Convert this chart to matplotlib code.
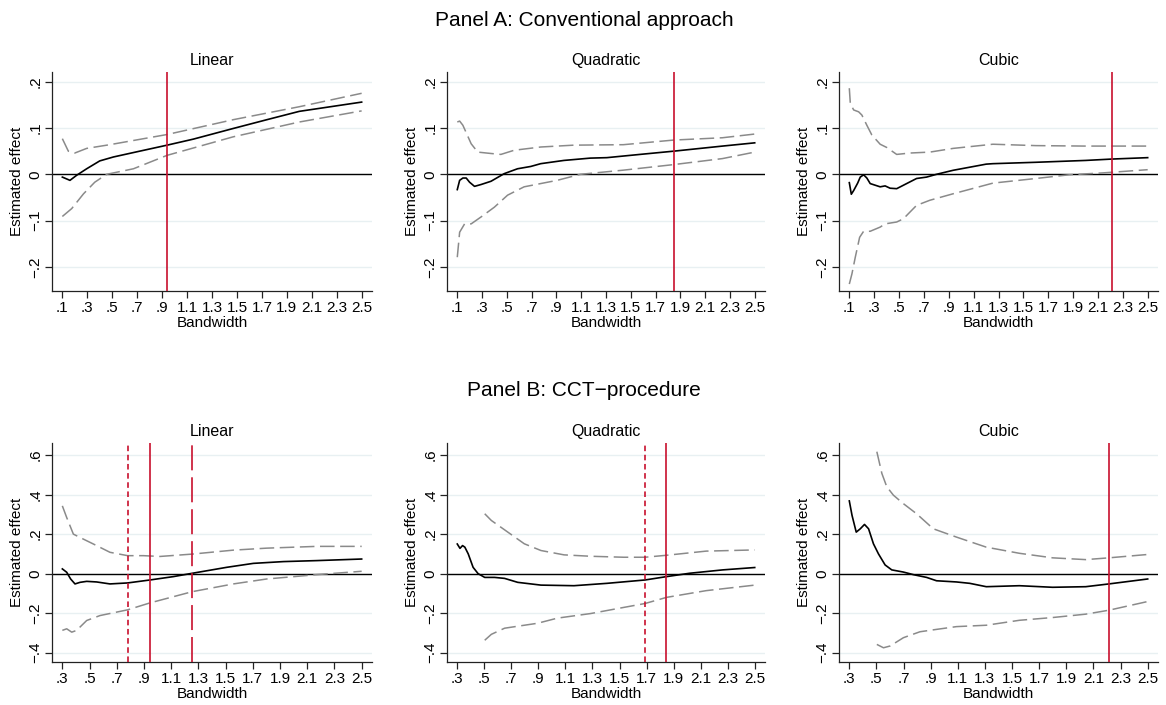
import matplotlib
matplotlib.use("Agg")
import matplotlib.pyplot as plt
from matplotlib.ticker import FixedLocator

plt.rcParams['font.family'] = ['Liberation Sans', 'DejaVu Sans']
plt.rcParams['lines.scale_dashes'] = False
plt.rcParams['axes.unicode_minus'] = True

# ---------------- Data ----------------
panel_titles = ["Panel A: Conventional approach", "Panel B: CCT\u2212procedure"]
model_titles = ["Linear", "Quadratic", "Cubic"]

# Panel A - Linear
a_lin_est_x = [0.10, 0.161, 0.215, 0.295, 0.40, 0.51, 0.72, 0.94, 1.15, 1.47, 1.74, 2.0, 2.5]
a_lin_est_y = [-0.006, -0.013, -0.002, 0.012, 0.029, 0.0375, 0.050, 0.063, 0.076, 0.099, 0.118, 0.136, 0.156]
a_lin_up_x = [0.10, 0.148, 0.20, 0.295, 0.48, 0.94, 1.47, 2.0, 2.5]
a_lin_up_y = [0.077, 0.050, 0.046, 0.056, 0.064, 0.086, 0.118, 0.146, 0.175]
a_lin_lo_x = [0.10, 0.175, 0.27, 0.36, 0.455, 0.67, 0.94, 1.47, 2.0, 2.5]
a_lin_lo_y = [-0.091, -0.074, -0.042, -0.017, 0.0, 0.012, 0.041, 0.081, 0.113, 0.137]

# Panel A - Quadratic
a_quad_est_x = [0.10, 0.119, 0.145, 0.172, 0.199, 0.239, 0.292, 0.372, 0.479, 0.586, 0.693, 0.773, 0.96, 1.173, 1.307, 1.574, 1.846, 2.24, 2.5]
a_quad_est_y = [-0.033, -0.013, -0.008, -0.008, -0.017, -0.026, -0.022, -0.015, 0.0015, 0.012, 0.017, 0.023, 0.030, 0.035, 0.036, 0.043, 0.050, 0.061, 0.068]
a_quad_up_x = [0.10, 0.119, 0.145, 0.212, 0.265, 0.372, 0.452, 0.559, 0.773, 1.04, 1.44, 1.846, 2.24, 2.5]
a_quad_up_y = [0.113, 0.115, 0.106, 0.066, 0.048, 0.045, 0.043, 0.052, 0.059, 0.063, 0.064, 0.074, 0.079, 0.087]
a_quad_lo_x = [0.10, 0.119, 0.159, 0.212, 0.292, 0.399, 0.506, 0.639, 0.906, 1.093, 1.44, 1.846, 2.24, 2.5]
a_quad_lo_y = [-0.179, -0.125, -0.107, -0.107, -0.092, -0.071, -0.045, -0.027, -0.013, 0.0, 0.009, 0.021, 0.034, 0.048]

# Panel A - Cubic
a_cub_est_x = [0.10, 0.116, 0.135, 0.167, 0.188, 0.215, 0.241, 0.268, 0.348, 0.388, 0.428, 0.481, 0.561, 0.641, 0.721, 0.801, 0.935, 1.201, 1.255, 1.601, 2.001, 2.215, 2.5]
a_cub_est_y = [-0.018, -0.043, -0.035, -0.019, -0.006, -0.001, -0.008, -0.020, -0.027, -0.025, -0.030, -0.031, -0.020, -0.009, -0.006, 0.0, 0.0087, 0.022, 0.023, 0.026, 0.030, 0.033, 0.036]
a_cub_up_x = [0.10, 0.108, 0.135, 0.175, 0.201, 0.241, 0.281, 0.348, 0.401, 0.481, 0.588, 0.748, 0.935, 1.255, 1.601, 2.0, 2.5]
a_cub_up_y = [0.186, 0.153, 0.139, 0.135, 0.128, 0.106, 0.085, 0.065, 0.058, 0.043, 0.046, 0.048, 0.056, 0.065, 0.062, 0.061, 0.061]
a_cub_lo_x = [0.10, 0.121, 0.148, 0.183, 0.215, 0.268, 0.348, 0.388, 0.481, 0.535, 0.641, 0.748, 0.935, 1.255, 1.601, 1.868, 2.135, 2.5]
a_cub_lo_y = [-0.237, -0.215, -0.179, -0.136, -0.123, -0.123, -0.114, -0.107, -0.103, -0.096, -0.067, -0.056, -0.042, -0.019, -0.009, -0.001, 0.003, 0.010]

# Panel B - Linear
b_lin_est_x = [0.30, 0.332, 0.361, 0.393, 0.430, 0.479, 0.552, 0.65, 0.78, 0.944, 1.116, 1.256, 1.508, 1.704, 1.925, 2.17, 2.5]
b_lin_est_y = [0.024, 0.007, -0.027, -0.052, -0.044, -0.039, -0.042, -0.052, -0.047, -0.032, -0.015, 0.002, 0.032, 0.052, 0.061, 0.066, 0.074]
b_lin_up_x = [0.30, 0.332, 0.381, 0.43, 0.528, 0.65, 0.78, 0.895, 1.018, 1.256, 1.557, 1.802, 2.17, 2.5]
b_lin_up_y = [0.343, 0.284, 0.200, 0.183, 0.150, 0.108, 0.091, 0.091, 0.087, 0.099, 0.119, 0.129, 0.138, 0.138]
b_lin_lo_x = [0.30, 0.332, 0.369, 0.405, 0.479, 0.577, 0.78, 0.944, 1.256, 1.557, 1.802, 2.17, 2.5]
b_lin_lo_y = [-0.287, -0.279, -0.296, -0.287, -0.237, -0.212, -0.183, -0.148, -0.091, -0.052, -0.027, -0.005, 0.012]

# Panel B - Quadratic
b_quad_est_x = [0.30, 0.32, 0.339, 0.356, 0.381, 0.417, 0.454, 0.503, 0.576, 0.65, 0.747, 0.919, 1.163, 1.408, 1.689, 1.848, 2.019, 2.263, 2.5]
b_quad_est_y = [0.150, 0.128, 0.142, 0.134, 0.100, 0.032, 0.0, -0.019, -0.019, -0.024, -0.044, -0.058, -0.061, -0.049, -0.032, -0.015, 0.002, 0.019, 0.031]
b_quad_up_x = [0.503, 0.552, 0.674, 0.796, 0.919, 1.09, 1.285, 1.53, 1.689, 1.848, 2.141, 2.5]
b_quad_up_y = [0.303, 0.269, 0.210, 0.151, 0.117, 0.095, 0.088, 0.083, 0.083, 0.093, 0.114, 0.120]
b_quad_lo_x = [0.503, 0.552, 0.65, 0.796, 0.894, 1.041, 1.285, 1.53, 1.689, 1.848, 2.141, 2.5]
b_quad_lo_y = [-0.337, -0.307, -0.276, -0.261, -0.251, -0.225, -0.202, -0.171, -0.151, -0.120, -0.086, -0.058]

# Panel B - Cubic
b_cub_est_x = [0.30, 0.32, 0.351, 0.381, 0.412, 0.442, 0.478, 0.515, 0.564, 0.613, 0.699, 0.772, 0.870, 0.943, 1.09, 1.188, 1.31, 1.554, 1.799, 2.043, 2.214, 2.5]
b_cub_est_y = [0.368, 0.295, 0.210, 0.227, 0.249, 0.227, 0.151, 0.100, 0.044, 0.019, 0.008, -0.005, -0.019, -0.036, -0.042, -0.049, -0.066, -0.061, -0.069, -0.066, -0.052, -0.027]
b_cub_up_x = [0.503, 0.54, 0.576, 0.625, 0.699, 0.796, 0.919, 1.09, 1.31, 1.554, 1.799, 2.043, 2.214, 2.5]
b_cub_up_y = [0.617, 0.507, 0.440, 0.397, 0.354, 0.303, 0.227, 0.185, 0.134, 0.103, 0.080, 0.071, 0.080, 0.097]
b_cub_lo_x = [0.503, 0.552, 0.601, 0.699, 0.821, 0.943, 1.09, 1.31, 1.554, 1.799, 2.043, 2.214, 2.5]
b_cub_lo_y = [-0.358, -0.375, -0.366, -0.324, -0.294, -0.282, -0.268, -0.261, -0.236, -0.222, -0.205, -0.185, -0.141]

# Optimal bandwidth reference lines: (position, style)
a_vlines = [[(0.94, "solid")], [(1.846, "solid")], [(2.214, "solid")]]
b_vlines = [[(0.78, "short"), (0.943, "solid"), (1.256, "long")],
            [(1.688, "short"), (1.847, "solid")],
            [(2.214, "solid")]]

a_xticks = [0.1, 0.3, 0.5, 0.7, 0.9, 1.1, 1.3, 1.5, 1.7, 1.9, 2.1, 2.3, 2.5]
a_xticklabels = [".1", ".3", ".5", ".7", ".9", "1.1", "1.3", "1.5", "1.7", "1.9", "2.1", "2.3", "2.5"]
b_xticks = [0.3, 0.5, 0.7, 0.9, 1.1, 1.3, 1.5, 1.7, 1.9, 2.1, 2.3, 2.5]
b_xticklabels = [".3", ".5", ".7", ".9", "1.1", "1.3", "1.5", "1.7", "1.9", "2.1", "2.3", "2.5"]
a_yticks = [-0.2, -0.1, 0.0, 0.1, 0.2]
a_yticklabels = ["\u2212.2", "\u2212.1", "0", ".1", ".2"]
b_yticks = [-0.4, -0.2, 0.0, 0.2, 0.4, 0.6]
b_yticklabels = ["\u2212.4", "\u2212.2", "0", ".2", ".4", ".6"]

panel_a = [
    (a_lin_est_x, a_lin_est_y, a_lin_up_x, a_lin_up_y, a_lin_lo_x, a_lin_lo_y),
    (a_quad_est_x, a_quad_est_y, a_quad_up_x, a_quad_up_y, a_quad_lo_x, a_quad_lo_y),
    (a_cub_est_x, a_cub_est_y, a_cub_up_x, a_cub_up_y, a_cub_lo_x, a_cub_lo_y),
]
panel_b = [
    (b_lin_est_x, b_lin_est_y, b_lin_up_x, b_lin_up_y, b_lin_lo_x, b_lin_lo_y),
    (b_quad_est_x, b_quad_est_y, b_quad_up_x, b_quad_up_y, b_quad_lo_x, b_quad_lo_y),
    (b_cub_est_x, b_cub_est_y, b_cub_up_x, b_cub_up_y, b_cub_lo_x, b_cub_lo_y),
]

# ---------------- Drawing ----------------
W, H = 1166, 705
fig = plt.figure(figsize=(W / 100, H / 100), dpi=100)
fig.patch.set_facecolor("white")

cols = [(52, 372), (447, 765), (839, 1158)]
rows = [(72, 291), (443, 662)]

RED = "#C8102E"
CI_COL = "#8a8a8a"
GRID = "#E8F0F2"
FS = 11

red_styles = {"solid": dict(linestyle="-"),
              "short": dict(linestyle=(0, (4.0, 2.6))),
              "long": dict(linestyle=(0, (18.0, 5.0)))}


def make_ax(row, col):
    (x0, x1) = cols[col]
    (y0, y1) = rows[row]
    return fig.add_axes([x0 / W, 1 - y1 / H, (x1 - x0) / W, (y1 - y0) / H])


panels = [(panel_a, a_vlines, a_xticks, a_xticklabels, a_yticks, a_yticklabels, (0.017, 2.583), (-0.252, 0.221)),
          (panel_b, b_vlines, b_xticks, b_xticklabels, b_yticks, b_yticklabels, (0.224, 2.576), (-0.447, 0.661))]

for r, (pdata, vlines, xt, xtl, yt, ytl, xl, yl) in enumerate(panels):
    for c in range(3):
        ax = make_ax(r, c)
        ex, ey, ux, uy, lx, ly = pdata[c]
        for yv in yt:
            ax.axhline(yv, color=GRID, lw=1.0, zorder=0)
        ax.axhline(0, color="black", lw=1.0, zorder=2)
        ax.plot(ux, uy, color=CI_COL, lw=1.1, linestyle=(0, (10.5, 4.0)), zorder=3)
        ax.plot(lx, ly, color=CI_COL, lw=1.1, linestyle=(0, (10.5, 4.0)), zorder=3)
        ax.plot(ex, ey, color="black", lw=1.2, zorder=4)
        for pos, sty in vlines[c]:
            ax.axvline(pos, color=RED, lw=1.2, zorder=5, **red_styles[sty])
        ax.set_xlim(*xl)
        ax.set_ylim(*yl)
        ax.set_xticks(xt)
        ax.set_xticklabels(xtl, fontsize=FS)
        ax.set_yticks(yt)
        ax.set_yticklabels(ytl, fontsize=FS, rotation=90, va="center")
        for s in ["top", "right"]:
            ax.spines[s].set_visible(False)
        for s in ["left", "bottom"]:
            ax.spines[s].set_color("#222222")
            ax.spines[s].set_linewidth(0.9)
        ax.tick_params(axis="both", direction="out", length=5, width=0.9, color="#222222", pad=2)
        ax.set_xlabel("Bandwidth", fontsize=FS, labelpad=1)
        ax.set_ylabel("Estimated effect", fontsize=FS, labelpad=3)
        ax.set_title(model_titles[c], fontsize=11.5, pad=5)
        ax.set_facecolor("white")

fig.text(584 / W, 1 - 20 / H, panel_titles[0], ha="center", va="center", fontsize=15)
fig.text(584 / W, 1 - 390 / H, panel_titles[1], ha="center", va="center", fontsize=15)

fig.savefig("out.png", dpi=100)
